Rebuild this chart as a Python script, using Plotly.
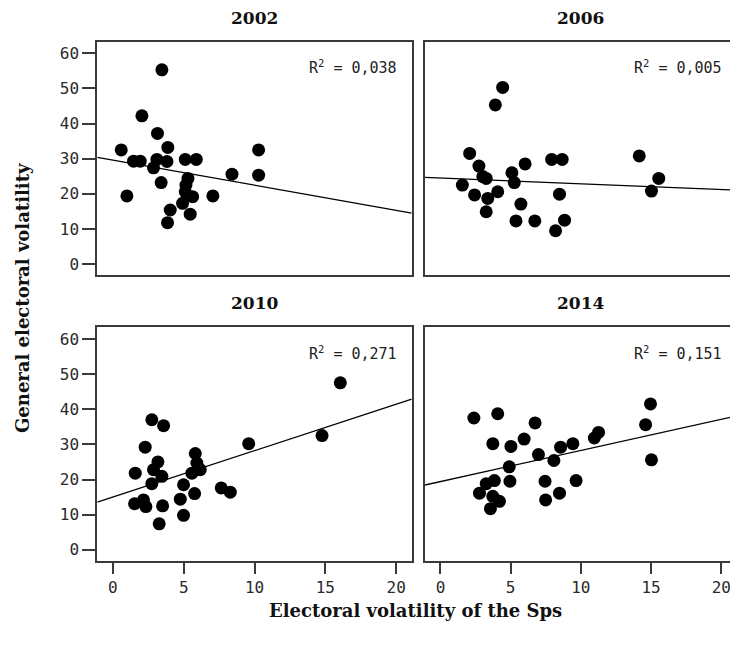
import numpy as np
import plotly.graph_objects as go

years = ["2002", "2006", "2010", "2014"]

x2002 = [3.46, 2.05, 3.15, 3.88, 0.59, 10.29, 1.46, 1.93, 3.11, 3.82, 5.11, 5.89, 2.87,
         8.41, 10.29, 5.30, 3.41, 5.16, 5.11, 5.63, 0.99, 7.06, 4.92, 4.05, 5.46, 3.86]
y2002 = [55.3, 42.2, 37.2, 33.2, 32.5, 32.5, 29.3, 29.3, 29.8, 29.2, 29.8, 29.8, 27.4,
         25.6, 25.3, 24.4, 23.2, 22.5, 20.6, 19.2, 19.4, 19.4, 17.3, 15.4, 14.2, 11.8]

x2006 = [4.43, 3.91, 2.08, 2.74, 3.02, 3.26, 1.56, 2.43, 3.37, 4.08, 3.26, 5.09, 5.26,
         6.03, 7.92, 8.67, 8.48, 5.73, 5.38, 6.72, 8.84, 8.20, 14.16, 15.55, 15.03]
y2006 = [50.3, 45.3, 31.5, 27.9, 24.9, 24.4, 22.5, 19.7, 18.7, 20.6, 14.9, 26.0, 23.2,
         28.5, 29.8, 29.8, 19.9, 17.1, 12.3, 12.3, 12.5, 9.5, 30.8, 24.4, 20.8]

x2010 = [16.06, 14.77, 9.59, 2.75, 3.58, 2.28, 3.18, 5.82, 5.93, 6.17, 5.58, 1.58, 2.87,
         3.46, 2.75, 4.99, 7.65, 8.29, 5.77, 4.76, 1.53, 2.16, 2.33, 3.51, 4.99, 3.27]
y2010 = [47.5, 32.5, 30.2, 37.0, 35.3, 29.2, 25.0, 27.4, 24.7, 22.8, 21.8, 21.8, 22.8,
         20.9, 18.8, 18.5, 17.6, 16.4, 16.0, 14.4, 13.1, 14.2, 12.3, 12.5, 9.8, 7.4]

x2014 = [2.38, 4.08, 6.74, 14.96, 14.61, 15.03, 11.26, 10.96, 9.43, 8.56, 5.96, 3.73, 5.02,
         6.98, 8.08, 4.90, 4.95, 7.45, 9.66, 3.84, 3.26, 2.78, 3.73, 4.20, 3.56, 7.49, 8.48]
y2014 = [37.5, 38.7, 36.1, 41.5, 35.6, 25.6, 33.4, 31.8, 30.2, 29.2, 31.5, 30.2, 29.4,
         27.1, 25.4, 23.6, 19.5, 19.5, 19.7, 19.7, 18.8, 16.1, 15.2, 13.8, 11.7, 14.2, 16.1]

fit_intercepts = [29.6, 24.5, 15.0, 19.4]
fit_slopes = [-0.714, -0.164, 1.32, 0.886]
r2_values = ["0,038", "0,005", "0,271", "0,151"]

x_ticks = [0, 5, 10, 15, 20]
y_ticks = [0, 10, 20, 30, 40, 50, 60]

xs = [x2002, x2006, x2010, x2014]
ys = [y2002, y2006, y2010, y2014]

# page has an 8px body margin: the figure starts at (8, 8) in the window
OFF = 8
W, H = 738 - OFF, 652 - OFF
X_RANGE = [-1.1, 21.1]
Y_RANGE = [-3.1, 63.3]

# panel pixel boxes in window coords (left, right, top, bottom)
boxes = [
    (97.3, 411.7, 41.7, 275.0),
    (425.0, 736.7, 41.7, 275.0),
    (97.3, 411.7, 327.3, 560.7),
    (425.0, 736.7, 327.3, 560.7),
]


def px(v):
    return (v - OFF) / W


def py(v):
    return 1 - (v - OFF) / H


fig = go.Figure()
tick_font = dict(family="DejaVu Sans Mono", size=16, color="#2a2a2a")
title_font = dict(family="DejaVu Serif", size=17, color="#111111")

annotations = []
for i in range(4):
    ax = "" if i == 0 else str(i + 1)
    xa, ya = "x" + ax, "y" + ax
    l, r, t, b = boxes[i]
    left_col = i in (0, 2)
    bottom_row = i in (2, 3)
    fig.add_trace(go.Scatter(
        x=xs[i], y=ys[i], mode="markers", xaxis=xa, yaxis=ya,
        marker=dict(color="black", size=13, line=dict(width=0)),
        showlegend=False, hoverinfo="skip"))
    lx = np.array(X_RANGE)
    ly = fit_intercepts[i] + fit_slopes[i] * lx
    fig.add_trace(go.Scatter(
        x=lx, y=ly, mode="lines", xaxis=xa, yaxis=ya,
        line=dict(color="black", width=1.3),
        showlegend=False, hoverinfo="skip"))
    xaxis = dict(
        domain=[px(l), px(r)], range=X_RANGE, anchor=ya,
        showgrid=False, zeroline=False, showline=True, mirror=True,
        linecolor="#3a3a3a", linewidth=2,
        tickvals=x_ticks if bottom_row else [],
        ticks="outside" if bottom_row else "", ticklen=11, tickwidth=2, tickcolor="#3a3a3a",
        showticklabels=bottom_row, tickfont=tick_font)
    yaxis = dict(
        domain=[py(b), py(t)], range=Y_RANGE, anchor=xa,
        showgrid=False, zeroline=False, showline=True, mirror=True,
        linecolor="#3a3a3a", linewidth=2,
        tickvals=y_ticks if left_col else [],
        ticks="outside" if left_col else "", ticklen=13, tickwidth=2, tickcolor="#3a3a3a",
        showticklabels=left_col, tickfont=tick_font)
    fig.update_layout(**{"xaxis" + ax: xaxis, "yaxis" + ax: yaxis})
    annotations.append(dict(
        text="<b>" + years[i] + "</b>", xref="paper", yref="paper",
        x=px((l + r) / 2), y=py(t - 12), xanchor="center", yanchor="bottom",
        showarrow=False, font=title_font))
    annotations.append(dict(
        text="R<sup>2</sup> = " + r2_values[i], xref=xa, yref=ya,
        x=20.2, y=56.0, xanchor="right", yanchor="middle", showarrow=False,
        font=dict(family="DejaVu Sans Mono", size=15, color="#222222")))

annotations.append(dict(
    text="<b>Electoral volatility of the Sps</b>", xref="paper", yref="paper",
    x=px(415), y=py(610), xanchor="center", yanchor="middle", showarrow=False,
    font=dict(family="DejaVu Serif", size=18, color="#111111")))
annotations.append(dict(
    text="<b>General electoral volatility</b>", xref="paper", yref="paper",
    x=px(22), y=py(298), xanchor="center", yanchor="middle", showarrow=False,
    textangle=-90, font=dict(family="DejaVu Serif", size=18, color="#111111")))

fig.update_layout(
    width=W, height=H, margin=dict(l=0, r=0, t=0, b=0),
    paper_bgcolor="white", plot_bgcolor="white",
    annotations=annotations)

fig.write_html("out.html")
